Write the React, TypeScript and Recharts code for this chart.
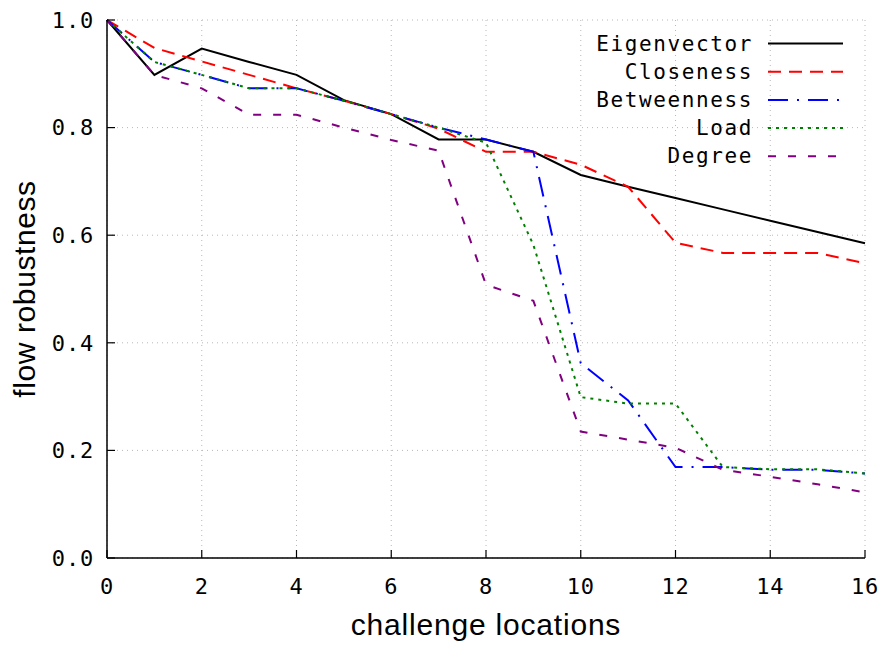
import { CartesianGrid, Legend, Line, LineChart, XAxis, YAxis } from 'recharts'

const steps = [0, 1, 2, 3, 4, 5, 6, 7, 8, 9, 10, 11, 12, 13, 14, 15, 16]
const xTicks = [0, 2, 4, 6, 8, 10, 12, 14, 16]
const yTicks = [0, 0.2, 0.4, 0.6, 0.8, 1.0]

const eigenvector = [1.0, 0.898, 0.947, 0.922, 0.898, 0.851, 0.825, 0.778, 0.778, 0.755, 0.712, 0.69, 0.669, 0.648, 0.627, 0.606, 0.585]
const closeness = [1.0, 0.948, 0.923, 0.898, 0.873, 0.85, 0.825, 0.798, 0.755, 0.755, 0.731, 0.69, 0.586, 0.567, 0.567, 0.567, 0.548]
const betweenness = [1.0, 0.922, 0.898, 0.873, 0.873, 0.85, 0.825, 0.8, 0.778, 0.755, 0.362, 0.293, 0.169, 0.169, 0.164, 0.164, 0.157]
const load = [1.0, 0.922, 0.898, 0.873, 0.873, 0.85, 0.825, 0.8, 0.772, 0.582, 0.299, 0.287, 0.287, 0.169, 0.165, 0.165, 0.157]
const degree = [1.0, 0.898, 0.873, 0.824, 0.824, 0.8, 0.777, 0.757, 0.508, 0.478, 0.235, 0.22, 0.205, 0.164, 0.151, 0.137, 0.122]

const SERIES = [
  { key: 'eigenvector', name: 'Eigenvector', color: '#000000', dash: undefined },
  { key: 'closeness', name: 'Closeness', color: '#ff0000', dash: '13 8' },
  { key: 'betweenness', name: 'Betweenness', color: '#0000ff', dash: '20 9 2 9' },
  { key: 'load', name: 'Load', color: '#008000', dash: '3 5' },
  { key: 'degree', name: 'Degree', color: '#800080', dash: '8 12' },
]

const data = steps.map((x, i) => ({
  x,
  eigenvector: eigenvector[i],
  closeness: closeness[i],
  betweenness: betweenness[i],
  load: load[i],
  degree: degree[i],
}))

const mono = '"DejaVu Sans Mono", monospace'
const sans = '"Liberation Sans", Arial, sans-serif'
const tickStyle = { fontFamily: mono, fontSize: 22, fill: '#000', letterSpacing: 0.8 }

function KeyBox() {
  return (
    <svg width={280} height={145}>
      {SERIES.map((s, i) => {
        const y = 15.5 + i * 28.2
        return (
          <g key={s.key}>
            <text
              x={173}
              y={y}
              textAnchor="end"
              dominantBaseline="central"
              style={{ fontFamily: mono, fontSize: 21, letterSpacing: 1.6 }}
              fill="#000"
            >
              {s.name}
            </text>
            <line x1={188} x2={263} y1={y} y2={y} stroke={s.color} strokeWidth={2} strokeDasharray={s.dash} />
          </g>
        )
      })}
    </svg>
  )
}

export default function App() {
  return (
    <div style={{ position: 'absolute', left: 0, top: 0, width: 888, height: 645, background: '#fff' }}>
      <LineChart width={888} height={645} data={data} margin={{ top: 20, right: 23, left: 0, bottom: 0 }}>
        <CartesianGrid stroke="#b8b8b8" strokeDasharray="1 4" />
        <XAxis
          dataKey="x"
          type="number"
          domain={[0, 16]}
          ticks={xTicks}
          interval={0}
          height={87}
          tick={tickStyle}
          tickSize={-8}
          tickMargin={28}
          axisLine={{ stroke: '#000', strokeWidth: 1.5 }}
          tickLine={{ stroke: '#000', strokeWidth: 1.2 }}
          label={{
            value: 'challenge locations',
            position: 'insideBottom',
            offset: 10,
            style: { fontFamily: sans, fontSize: 30, letterSpacing: 0.8, fill: '#000' },
          }}
        />
        <XAxis
          xAxisId="top"
          orientation="top"
          dataKey="x"
          type="number"
          domain={[0, 16]}
          ticks={xTicks}
          height={0}
          tick={false}
          tickSize={-8}
          axisLine={{ stroke: '#000', strokeWidth: 1.5 }}
          tickLine={{ stroke: '#000', strokeWidth: 1.2 }}
        />
        <YAxis
          type="number"
          domain={[0, 1]}
          ticks={yTicks}
          interval={0}
          width={107}
          tick={tickStyle}
          tickSize={-8}
          tickMargin={21}
          tickFormatter={(v) => Number(v).toFixed(1)}
          axisLine={{ stroke: '#000', strokeWidth: 1.5 }}
          tickLine={{ stroke: '#000', strokeWidth: 1.2 }}
          label={{
            value: 'flow robustness',
            angle: -90,
            position: 'insideLeft',
            offset: 24,
            style: { textAnchor: 'middle', fontFamily: sans, fontSize: 30, letterSpacing: 0.6, fill: '#000' },
          }}
        />
        <YAxis
          yAxisId="right"
          orientation="right"
          type="number"
          domain={[0, 1]}
          ticks={yTicks}
          width={0}
          tick={false}
          tickSize={-8}
          axisLine={{ stroke: '#000', strokeWidth: 1.5 }}
          tickLine={{ stroke: '#000', strokeWidth: 1.2 }}
        />
        <Legend
          layout="vertical"
          align="center"
          verticalAlign="middle"
          wrapperStyle={{ position: 'absolute', top: 28, left: 580, width: 280, height: 145 }}
          content={() => <KeyBox />}
        />
        {SERIES.map((s) => (
          <Line
            key={s.key}
            type="linear"
            dataKey={s.key}
            name={s.name}
            stroke={s.color}
            strokeWidth={2}
            strokeDasharray={s.dash}
            dot={false}
            activeDot={false}
            isAnimationActive={false}
          />
        ))}
      </LineChart>
    </div>
  )
}
